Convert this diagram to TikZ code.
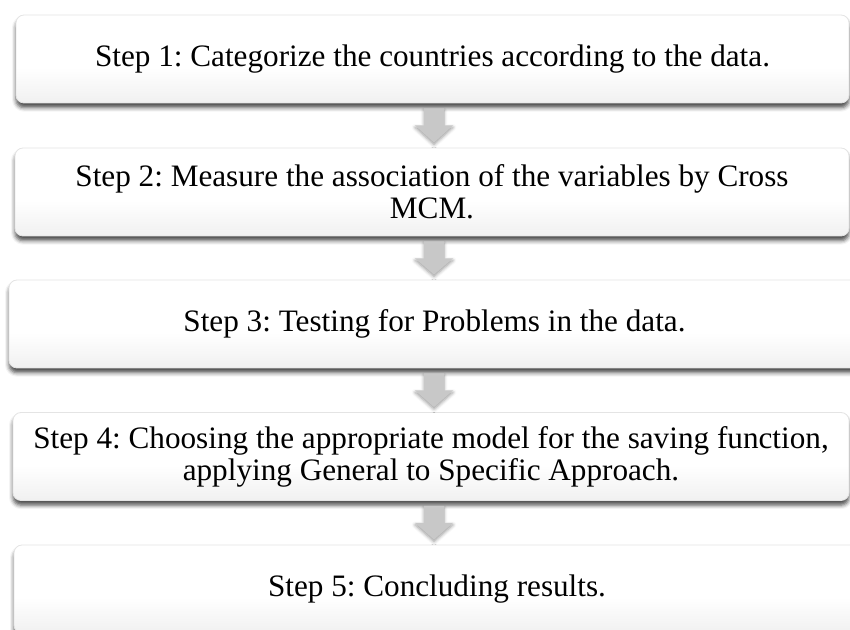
\documentclass[tikz,border=0pt]{standalone}
\usepackage{fontspec}
\setmainfont{Liberation Serif}
\frenchspacing
\usetikzlibrary{calc, shadows.blur}
\definecolor{boxedge}{HTML}{E4E4E4}
\definecolor{boxlow}{HTML}{DEDEDE}
\definecolor{arrowgrey}{HTML}{C8C8C8}
\pgfdeclareverticalshading{stepshade}{100bp}{color(0bp)=(boxlow); color(45bp)=(white); color(100bp)=(white)}
\tikzset{
  stepbox/.style={rounded corners=6pt, draw=boxedge, line width=0.6pt,
    shading=stepshade, minimum height=66pt, inner sep=0pt, align=center,
    font=\fontsize{23.4}{24}\selectfont,
    blur shadow={shadow xshift=0pt, shadow yshift=-3.5pt,
      shadow blur radius=3pt, shadow opacity=70}},
  downarrow/.style={fill=arrowgrey,
    blur shadow={shadow xshift=0pt, shadow yshift=-1.5pt,
      shadow blur radius=2.5pt, shadow opacity=40}}
}

\begin{document}
\begin{tikzpicture}[x=0.75pt, y=-0.75pt]
  \useasboundingbox (0,0) rectangle (850,630);
  \coordinate (ax) at (434,0);
  % the five steps
  \foreach \nm/\cx/\cy/\w/\txt in {
    s1/432.5/59/833/{Step 1: Categorize the countries according to the data.},
    s2/432/192/834/{Step 2: Measure the association of the variables by Cross\\MCM.},
    s3/434.5/324/851/{Step 3: Testing for Problems in the data.},
    s4/431/456.5/836/{Step 4: Choosing the appropriate model for the saving function,\\applying General to Specific Approach.},
    s5/437/589/846/{Step 5: Concluding results.}}{%
    \node[stepbox, minimum width=\w*0.75pt] (\nm) at (\cx,\cy) {\txt};}
  % block arrows between the steps
  \foreach \a/\b in {s1/s2, s2/s3, s3/s4, s4/s5}{%
    \fill[downarrow] ($(\a.south -| ax)+(-10,5)$) -- ($(\a.south -| ax)+(-10,22)$)
      -- ($(\a.south -| ax)+(-19,22)$) -- ($(\b.north -| ax)+(0,-5)$)
      -- ($(\a.south -| ax)+(19,22)$) -- ($(\a.south -| ax)+(10,22)$)
      -- ($(\a.south -| ax)+(10,5)$) -- cycle;}
\end{tikzpicture}
\end{document}
